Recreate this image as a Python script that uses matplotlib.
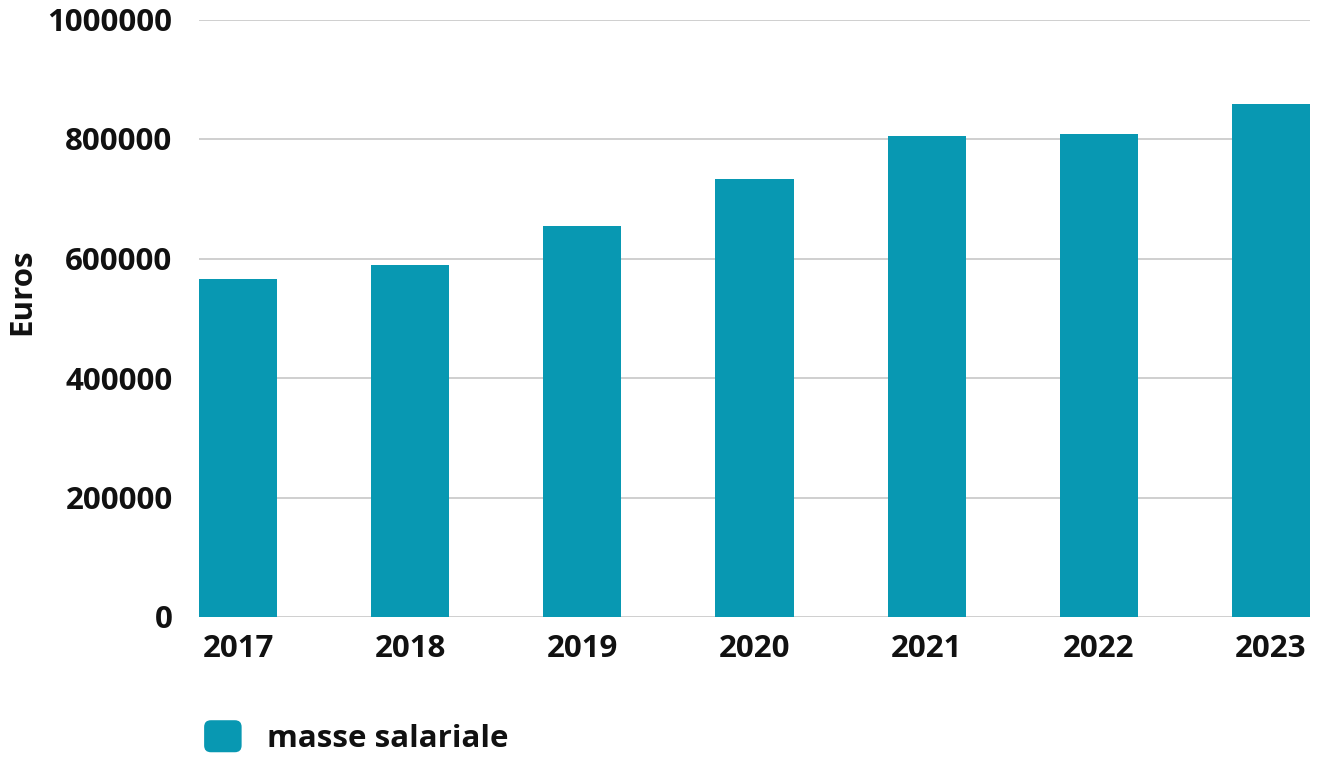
import matplotlib
matplotlib.use("Agg")
import matplotlib.pyplot as plt
from matplotlib.patches import FancyBboxPatch, Patch
from matplotlib.legend_handler import HandlerPatch

years = ["2017", "2018", "2019", "2020", "2021", "2022", "2023"]
masse_salariale = [565700, 589600, 654900, 732600, 805500, 808400, 858600]
yticks = [0, 200000, 400000, 600000, 800000, 1000000]
series_name = "masse salariale"

color = "#0898B2"
plt.rcParams['font.family'] = ['Open Sans', 'DejaVu Sans']
plt.rcParams['font.weight'] = 'bold'

W, H = 1322, 757
fig = plt.figure(figsize=(W / 100, H / 100), dpi=100)
ax = fig.add_axes([199 / W, 1 - 617 / H, (1310 - 199) / W, (617 - 19.5) / H])

FS = 22.5
x = list(range(len(years)))
bw = 0.454
ax.bar(x, masse_salariale, width=bw, color=color, zorder=3, label=series_name)
ax.set_xlim(-bw / 2, len(years) - 1 + bw / 2)
ax.set_ylim(0, 1000000)
ax.set_yticks(yticks)
ax.set_yticklabels([str(v) for v in yticks])
ax.set_xticks(x)
ax.set_xticklabels(years)
ax.grid(axis='y', color='#cfcfcf', linewidth=1.4, zorder=0)
ax.tick_params(axis='both', length=0, labelsize=FS, colors='#111111')
ax.tick_params(axis='y', pad=19)
ax.tick_params(axis='x', pad=12)
for s in ax.spines.values():
    s.set_visible(False)
for lab in ax.get_xticklabels() + ax.get_yticklabels():
    lab.set_fontweight('bold')

fig.text(22 / W, 1 - 292 / H, "Euros", rotation=90, ha='center', va='center',
         fontsize=FS, fontweight='bold', color='#111111')


class HandlerRound(HandlerPatch):
    def create_artists(self, legend, orig_handle, xdescent, ydescent, width, height, fontsize, trans):
        p = FancyBboxPatch((-xdescent, -ydescent), width, height,
                           boxstyle="round,pad=0,rounding_size=%f" % (width * 0.18),
                           facecolor=color, edgecolor='none', transform=trans)
        return [p]


handle = Patch(color=color, label=series_name)
leg = fig.legend(handles=[handle], loc='center left',
                 bbox_to_anchor=(176 / W, 1 - 737 / H), frameon=False,
                 handlelength=1.2, handleheight=1.2, handletextpad=0.8,
                 prop={'size': FS, 'weight': 'bold'},
                 handler_map={Patch: HandlerRound()})
for t in leg.get_texts():
    t.set_color('#111111')

fig.savefig("out.png", dpi=100)
